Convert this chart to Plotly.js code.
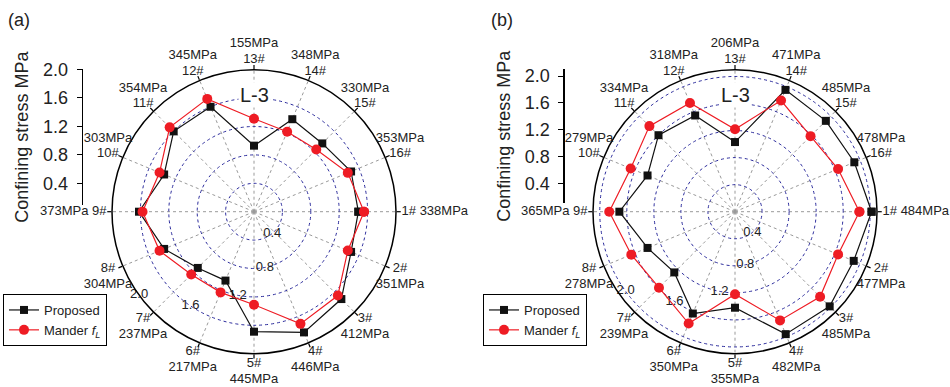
<!DOCTYPE html>
<html>
<head>
<meta charset="utf-8">
<script src="https://cdn.plot.ly/plotly-3.0.1.min.js"></script>
<style>html,body{margin:0;padding:0;background:#fff;}#chart{width:950px;height:387px;}</style>
</head>
<body>
<div id="chart"></div>
<script>
// ---- data ----
const categories = ['1#','2#','3#','4#','5#','6#','7#','8#','9#','10#','11#','12#','13#','14#','15#','16#'];
const strengthA = [338,351,412,446,445,217,237,304,373,303,354,345,155,348,330,353];
const strengthB = [484,477,485,482,355,350,239,278,365,279,334,318,206,471,485,478];
const proposedA = [1.47,1.48,1.74,1.84,1.69,1.05,1.12,1.37,1.62,1.37,1.60,1.60,0.93,1.41,1.36,1.48];
const manderA   = [1.55,1.43,1.67,1.71,1.31,1.23,1.25,1.44,1.57,1.44,1.68,1.72,1.31,1.22,1.24,1.43];
const proposedB = [2.02,1.90,1.98,1.96,1.42,1.63,1.27,1.40,1.71,1.40,1.60,1.54,1.03,1.95,1.90,1.91];
const manderB   = [1.84,1.65,1.78,1.74,1.22,1.79,1.59,1.66,1.86,1.67,1.79,1.74,1.22,1.78,1.58,1.65];
const radialTicks = [0.4,0.8,1.2,1.6,2.0];
const radialTickLabels = ['0.4','0.8','1.2','1.6','2.0'];
const seriesNames = ['Proposed','Mander <i>f</i><sub><i>L</i></sub>'];
const panelLabels = ['(a)','(b)'];
const specimenLabel = 'L-3';
const yTitle = 'Confining stress MPa';

// ---- helpers ----
const n = categories.length;
const theta = categories.map((c,i)=> i*360/n);
const close = a => a.concat([a[0]]);
const labelAngles = [50,79,101,124,144];
const W = 950, H = 387;
const FONT = 'Liberation Sans, Arial, sans-serif';
const TXT = {size:13,color:'#222',family:FONT};
const CY = 211.7, R = 142, RL = 175;   // centre y, plot radius, label-overlay radius (px)

// small outward push of label blocks away from the horizontal, as in the original layout
function labelTheta(a){
  const e = Math.abs(((a + 90) % 180) - 90);          // elevation from horizontal, 0..90
  const push = e > 10 && e < 30 ? 1.6 : (e > 30 && e < 60 ? 1.1 : 0);
  const below = a > 0 && a < 180, right = a < 90 || a > 270;
  return a + push * ((below === right) ? 1 : -1);
}

// labels around each wheel are drawn on a larger, invisible overlay polar with the same centre and scale
function angularLabelTraces(sub, strength){
  const blockF = 160/R, sideF = 1.03;
  const side = {r:[],theta:[],text:[],pos:[]};
  const two = {r:[],theta:[],up:[],lo:[]};
  categories.forEach((c,i)=>{
    const a = theta[i], s = strength[i] + 'MPa';
    if (a === 0 || a === 180){
      side.r.push(sideF); side.theta.push(a);
      side.text.push(a === 0 ? c + ' ' + s : s + ' ' + c);
      side.pos.push(a === 0 ? 'middle right' : 'middle left');
    } else {
      two.r.push(blockF); two.theta.push(labelTheta(a));
      two.up.push(a < 180 ? c : s); two.lo.push(a < 180 ? s : c);
    }
  });
  const base = {type:'scatterpolar', subplot:sub, mode:'text+markers', cliponaxis:false, showlegend:false,
    hoverinfo:'skip', textfont:TXT, marker:{size:0.5, opacity:0}};
  return [
    Object.assign({}, base, {r:side.r, theta:side.theta, text:side.text, textposition:side.pos}),
    Object.assign({}, base, {r:two.r, theta:two.theta, text:two.up, textposition:'top center'}),
    Object.assign({}, base, {r:two.r, theta:two.theta, text:two.lo, textposition:'bottom center'})
  ];
}

function panelTraces(sub, labelSub, legend, prop, mand, strength){
  return [
    {type:'scatterpolar', subplot:sub, mode:'text', r:radialTicks, theta:labelAngles,
     text:radialTickLabels, textfont:TXT, showlegend:false, hoverinfo:'skip'},
    {type:'scatterpolar', subplot:sub, legend:legend, name:seriesNames[0], mode:'lines+markers',
     r:close(prop), theta:close(theta), line:{color:'#111',width:1.2},
     marker:{symbol:'square',size:8,color:'#111'}},
    {type:'scatterpolar', subplot:sub, legend:legend, name:seriesNames[1], mode:'lines+markers',
     r:close(mand), theta:close(theta), line:{color:'#ee1c24',width:1.2},
     marker:{symbol:'circle',size:10,color:'#ee1c24'}},
    ...angularLabelTraces(labelSub, strength)
  ];
}

const traces = [
  {type:'scatter', x:[null], y:[null], xaxis:'x', yaxis:'y', showlegend:false, hoverinfo:'skip'},
  {type:'scatter', x:[null], y:[null], xaxis:'x2', yaxis:'y2', showlegend:false, hoverinfo:'skip'},
  ...panelTraces('polar','polar3','legend',proposedA,manderA,strengthA),
  ...panelTraces('polar2','polar4','legend2',proposedB,manderB,strengthB)
];

function polarLayout(cx, rmax){
  return {
    domain:{x:[(cx-R)/W, (cx+R)/W], y:[1-(CY+R)/H, 1-(CY-R)/H]},
    bgcolor:'#fff',
    radialaxis:{range:[0,rmax], tickvals:radialTicks, showticklabels:false, ticks:'', showline:false,
      gridcolor:'#2b2b9c', griddash:'dot', gridwidth:1},
    angularaxis:{thetaunit:'degrees', direction:'clockwise', rotation:0, tickmode:'array',
      tickvals:theta, showticklabels:false, ticks:'outside', ticklen:4, tickcolor:'#000', tickwidth:1.2,
      showline:true, linecolor:'#000', linewidth:1.5, gridcolor:'#9a9a9a', griddash:'dot', gridwidth:1}
  };
}
function labelPolarLayout(cx){
  return {
    domain:{x:[(cx-RL)/W, (cx+RL)/W], y:[Math.max(0,1-(CY+RL)/H), 1-(CY-RL)/H]},
    bgcolor:'rgba(0,0,0,0)',
    radialaxis:{visible:false, range:[0, RL/R]},
    angularaxis:{visible:false, thetaunit:'degrees', direction:'clockwise', rotation:0}
  };
}
function yLayout(pos, top, bottom, range){
  return {anchor:'free', position:pos/W, side:'left', domain:[1-bottom/H, 1-top/H], range:range,
    showline:true, linecolor:'#000', linewidth:1.2, ticks:'outside', ticklen:5, tickcolor:'#000',
    tickvals:radialTicks, ticktext:radialTickLabels, showgrid:false, zeroline:false,
    ticklabelstandoff:5, tickfont:{size:18,color:'#222',family:FONT},
    title:{text:yTitle, font:{size:18,color:'#222',family:FONT}, standoff:8}};
}
function legendLayout(x, y){
  return {x:x/W, xanchor:'left', y:1-y/H, yanchor:'top', bgcolor:'#fff', bordercolor:'#000', borderwidth:1,
    font:{size:13,color:'#222',family:FONT}, tracegroupgap:0, itemwidth:30};
}

const layout = {
  width:W, height:H, margin:{l:0,r:0,t:0,b:0}, paper_bgcolor:'#fff', plot_bgcolor:'rgba(0,0,0,0)',
  font:{family:FONT,color:'#222'},
  showlegend:true,
  polar: polarLayout(254, 2.0),
  polar2: polarLayout(735, 2.1),
  polar3: labelPolarLayout(254),
  polar4: labelPolarLayout(735),
  xaxis:{visible:false, domain:[0.085,0.09], range:[0,1]},
  xaxis2:{visible:false, domain:[0.59,0.595], range:[0,1]},
  yaxis: yLayout(81.7, 69.3, 205, [0.095,2.0]),
  yaxis2: yLayout(563.3, 69.3, 203.3, [0.1,2.1]),
  legend: legendLayout(3, 294),
  legend2: legendLayout(483, 294),
  annotations:[
    {xref:'paper',yref:'paper',x:19/W,y:1-20/H,xanchor:'center',yanchor:'middle',text:panelLabels[0],showarrow:false,font:{size:18,color:'#222'}},
    {xref:'paper',yref:'paper',x:502/W,y:1-20/H,xanchor:'center',yanchor:'middle',text:panelLabels[1],showarrow:false,font:{size:18,color:'#222'}},
    {xref:'paper',yref:'paper',x:254/W,y:1-95/H,xanchor:'center',yanchor:'middle',text:specimenLabel,showarrow:false,bgcolor:'#fff',font:{size:20,color:'#222'}},
    {xref:'paper',yref:'paper',x:735/W,y:1-95/H,xanchor:'center',yanchor:'middle',text:specimenLabel,showarrow:false,bgcolor:'#fff',font:{size:20,color:'#222'}}
  ]
};

Plotly.newPlot('chart', traces, layout, {staticPlot:true});
</script>
</body>
</html>
